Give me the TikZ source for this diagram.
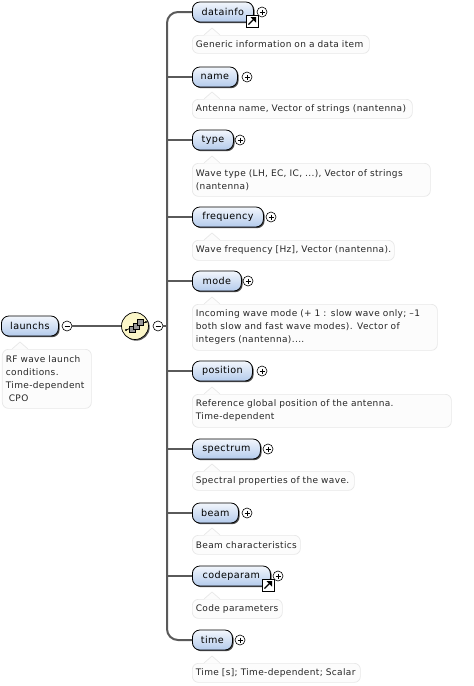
\documentclass[tikz,border=0pt]{standalone}
\usepackage{fontspec}
\setmainfont{DejaVu Sans}
\newfontfamily\spacedfont[LetterSpace=4]{DejaVu Sans}
\usetikzlibrary{shadows,calc}
\definecolor{elemtop}{HTML}{F2F6FC}
\definecolor{elembot}{HTML}{B4CBEC}
\definecolor{annbord}{HTML}{E8E8E8}
\definecolor{annfill}{HTML}{FCFCFC}
\definecolor{trunk}{HTML}{5A5A5A}
\definecolor{seqfill}{HTML}{FBF6C8}
\tikzset{
  elembox/.style={draw=black,line width=0.8pt,rounded corners=7.5pt,top color=elemtop,bottom color=elembot,
    minimum height=20pt,inner sep=0pt,anchor=west,font=\spacedfont\fontsize{9.6}{12}\selectfont,
    drop shadow={shadow xshift=1.2pt,shadow yshift=-1.2pt,fill=black!70,opacity=1}},
  annbox/.style={draw=annbord,fill=annfill,line width=0.7pt,rounded corners=6pt,inner xsep=3.5pt,inner ysep=0pt,anchor=north west,
    font=\spacedfont\fontsize{9}{13}\selectfont,align=left,text=black!85},
  togglebox/.style={circle,draw=black,fill=white,line width=0.6pt,minimum size=10pt,inner sep=0pt},
  branch/.style={draw=trunk,line width=2pt},
  linkbox/.style={draw=black,fill=white,line width=0.8pt,minimum size=12pt,inner sep=0pt},
}
\newcommand{\elemnode}[5]{% id, label, x1, x2, y
  \node[elembox,minimum width=#4pt-#3pt] (#1) at (#3,#5) {#2};
}
\newcommand{\plusnode}[3]{%
  \node[togglebox] (#1) at (#2,#3) {};
  \draw[line width=0.6pt] ($(#1)+(-2.5,0)$) -- ($(#1)+(2.5,0)$) ($(#1)+(0,-2.5)$) -- ($(#1)+(0,2.5)$);
}
\newcommand{\minusnode}[3]{%
  \node[togglebox] (#1) at (#2,#3) {};
  \draw[line width=0.6pt] ($(#1)+(-2.5,0)$) -- ($(#1)+(2.5,0)$);
}
\newcommand{\annot}[7]{% name, x1, y1, x2, y2, tailx, text
  \node[annbox,text width=\dimexpr#4pt-#2pt-7pt\relax,minimum height=#5pt-#3pt] (#1) at (#2,#3) {#7};
  \fill[annfill] (#6-8,#3+0.6) -- (#6,#3-6.5) -- (#6+8,#3+0.6) -- cycle;
  \draw[annbord,line width=0.7pt] (#6-8,#3) -- (#6,#3-7) -- (#6+8,#3);
}
\newcommand{\linkicon}[3]{%
  \node[linkbox] (#1) at (#2,#3) {};
  \draw[line width=1.3pt] ($(#1)+(-3.5,3.5)$) -- ($(#1)+(1.5,-1.5)$);
  \fill ($(#1)+(4,-4)$) -- ($(#1)+(-1.5,-4)$) -- ($(#1)+(4,1.5)$) -- cycle;
}
\begin{document}
\begin{tikzpicture}[x=1pt,y=-1pt]
\useasboundingbox (0,0) rectangle (474,686);
\fill[white] (0,0) rectangle (474,686);
% elements
\elemnode{datainfo}{datainfo}{192}{253}{12}
\elemnode{name}{name}{192}{237}{77}
\elemnode{type}{type}{192}{233}{140}
\elemnode{frequency}{frequency}{192}{263}{217}
\elemnode{mode}{mode}{192}{241}{281}
\elemnode{position}{position}{192}{252}{371}
\elemnode{spectrum}{spectrum}{192}{260}{449}
\elemnode{beam}{beam}{192}{238}{513}
\elemnode{codeparam}{codeparam}{192}{270}{576}
\elemnode{time}{time}{192}{232}{640}
% trunk
\draw[branch,rounded corners=11pt] (datainfo.west) -- (167,12) -- (167,640) -- (time.west);
\foreach \n in {name,type,frequency,mode,position,spectrum,beam,codeparam}{
  \draw[branch] (\n.west) -- (167,0 |- \n.west);
}
% toggles
\plusnode{pdatainfo}{262}{12}
\plusnode{pname}{247}{77}
\plusnode{ptype}{240}{140}
\plusnode{pfrequency}{271}{217}
\plusnode{pmode}{248}{281}
\plusnode{pposition}{262}{371}
\plusnode{pspectrum}{268}{449}
\plusnode{pbeam}{247}{513}
\plusnode{pcodeparam}{278}{576}
\plusnode{ptime}{240}{640}
\linkicon{ldatainfo}{252}{21}
\linkicon{lcodeparam}{268}{585}
% annotations
\annot{adatainfo}{192}{35}{369}{53}{212}{Generic information on a data item}
\annot{aname}{192}{99}{412}{118}{212}{Antenna name, Vector of strings (nantenna)}
\annot{atype}{192}{163}{430}{196}{212}{Wave type (LH, EC, IC, ...), Vector of strings\\(nantenna)}
\annot{afrequency}{192}{240}{394}{260}{212}{Wave frequency [Hz], Vector (nantenna).}
\annot{amode}{192}{304}{437}{350}{212}{Incoming wave mode (+ 1 : slow wave only; –1\\both slow and fast wave modes). Vector of\\integers (nantenna)....}
\annot{aposition}{192}{394}{451}{427}{212}{Reference global position of the antenna.\\Time-dependent}
\annot{aspectrum}{192}{471}{354}{490}{212}{Spectral properties of the wave.}
\annot{abeam}{192}{535}{300}{554}{212}{Beam characteristics}
\annot{acodeparam}{192}{599}{282}{618}{212}{Code parameters}
\annot{atime}{192}{663}{360}{682}{212}{Time [s]; Time-dependent; Scalar}
% root
\node[elembox,minimum width=57pt] (launchs) at (1,326) {launchs};
\minusnode{mlaunchs}{67}{326}
\annot{alaunchs}{2}{349}{91}{408}{20}{RF wave launch\\conditions.\\Time-dependent\\\hspace*{3pt}CPO}
% sequence compositor
\node[circle,draw=black,line width=0.7pt,fill=seqfill,minimum size=27pt,inner sep=0pt,
  drop shadow={shadow xshift=1.2pt,shadow yshift=-1.2pt,fill=black!65,opacity=1}] (seq) at (135,326) {};
\minusnode{mseq}{158}{326}
\draw[branch] (mlaunchs.east) -- (seq.west);
\draw[branch] (mseq.east) -- (167,326);
% sequence icon
\draw[black,line width=0.7pt] ($(seq)+(-9,4)$) -- ($(seq)+(11,-4)$);
\fill ($(seq)+(-9,4)$) circle (1.1pt) ($(seq)+(11,-4)$) circle (1.1pt);
\foreach \dx/\dy in {-2.5/3.5, 1/0, 5/-3.5}{
  \draw[black,fill=black!40,line width=0.5pt] ($(seq)+(\dx-3.2,\dy-3.2)$) rectangle ($(seq)+(\dx+3.2,\dy+3.2)$);
}
\end{tikzpicture}
\end{document}
